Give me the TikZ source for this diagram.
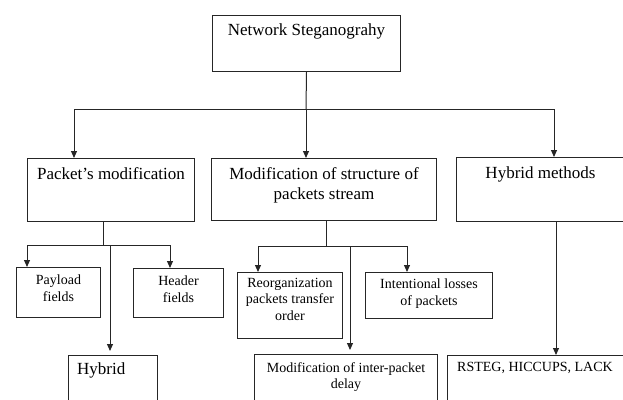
\documentclass[tikz,border=0pt]{standalone}
\usepackage{fontspec}
\setmainfont{Liberation Serif}
\usetikzlibrary{arrows.meta,positioning}

\begin{document}
\begin{tikzpicture}[
      x=1pt, y=-1pt,
      cbox/.style={
        draw=black!85,
        line width=1pt,
        anchor=north west,
        inner sep=0pt
      },
      big/.style={font=\fontsize{17}{20}\selectfont, text=black},
      small/.style={font=\fontsize{14}{16.5}\selectfont, text=black},
      tlbl/.style={anchor=north, inner sep=0pt, align=center},
      llbl/.style={anchor=north west, inner sep=0pt, align=left},
      wire/.style={line width=1pt, black!85},
      arr/.style={
        -{Triangle[length=7pt,width=6pt]},
        line width=1pt,
        black!85
      }
    ]

    \useasboundingbox (0,0) rectangle (623,399);
    \clip (0,0) rectangle (623,399);

    % top level
    \node[cbox, minimum width=188pt, minimum height=56pt,
      label={[tlbl,big,yshift=-9pt]north:Network Steganograhy}] (ns) at (212,15) {};

    % second level
    \node[cbox, minimum width=167pt, minimum height=63pt,
      label={[tlbl,big,yshift=-9pt]north:Packet’s modification}] (pm) at (27,158) {};

    \node[cbox, minimum width=225pt, minimum height=62pt,
      label={[tlbl,big,yshift=-9pt]north:Modification of structure of\\packets stream}] (ms) at (211,158) {};

    \node[cbox, minimum width=168pt, minimum height=64pt,
      label={[tlbl,big,yshift=-10pt]north:Hybrid methods}] (hm) at (456,157) {};

    % third level
    \node[cbox, minimum width=84pt, minimum height=50pt,
      label={[tlbl,small,yshift=-8pt]north:Payload\\fields}] (pf) at (16,267) {};

    \node[cbox, minimum width=90pt, minimum height=49pt,
      label={[tlbl,small,yshift=-8pt]north:Header\\fields}] (hf) at (133,268) {};

    \node[cbox, minimum width=105pt, minimum height=66pt,
      label={[tlbl,small,yshift=-6pt]north:Reorganization\\packets transfer\\order}] (ro) at (237,272) {};

    \node[cbox, minimum width=127pt, minimum height=46pt,
      label={[tlbl,small,yshift=-7pt]north:Intentional losses\\of packets}] (il) at (365,272) {};

    \node[cbox, minimum width=89pt, minimum height=60pt,
      label={[llbl,big,xshift=9pt,yshift=-7pt]north west:Hybrid}] (hy) at (68,355) {};

    \node[cbox, minimum width=183pt, minimum height=60pt,
      label={[tlbl,small,yshift=-8pt]north:Modification of inter-packet\\delay}] (md) at (254,354) {};

    \node[cbox, minimum width=190pt, minimum height=60pt,
      label={[llbl,small,xshift=10pt,yshift=-7pt]north west:RSTEG, HICCUPS, LACK}] (rs) at (447,355) {};

    % first split
    \coordinate (t1) at (74,109);
    \coordinate (t2) at (306,109);
    \coordinate (t3) at (554,109);
    \draw[wire] (ns.south) -- (t2);
    \draw[wire] (t1) -- (t3);
    \draw[arr] (t1) -- (t1 |- pm.north);
    \draw[arr] (t2) -- (t2 |- ms.north);
    \draw[arr] (t3) -- (t3 |- hm.north);

    % packet's modification
    \coordinate (p0) at (103,245);
    \coordinate (p1) at (27,245);
    \coordinate (p2) at (170,245);
    \coordinate (p3) at (110,245);
    \draw[wire] (p0 |- pm.south) -- (p0);
    \draw[wire] (p1) -- (p2);
    \draw[arr] (p1) -- (p1 |- pf.north);
    \draw[arr] (p2) -- (p2 |- hf.north);
    \draw[arr, shorten >=4pt] (p3) -- (p3 |- hy.north);

    % structure of stream
    \coordinate (m0) at (326,246);
    \coordinate (m1) at (258,246);
    \coordinate (m2) at (407,246);
    \coordinate (m3) at (350,246);
    \draw[wire] (m0 |- ms.south) -- (m0);
    \draw[wire] (m1) -- (m2);
    \draw[arr] (m1) -- (m1 |- ro.north);
    \draw[arr] (m2) -- (m2 |- il.north);
    \draw[arr, shorten >=4pt] (m3) -- (m3 |- md.north);

    % hybrid methods
    \coordinate (h0) at (556,240);
    \draw[arr] (h0 |- hm.south) -- (h0 |- rs.north);

  \end{tikzpicture}
\end{document}
